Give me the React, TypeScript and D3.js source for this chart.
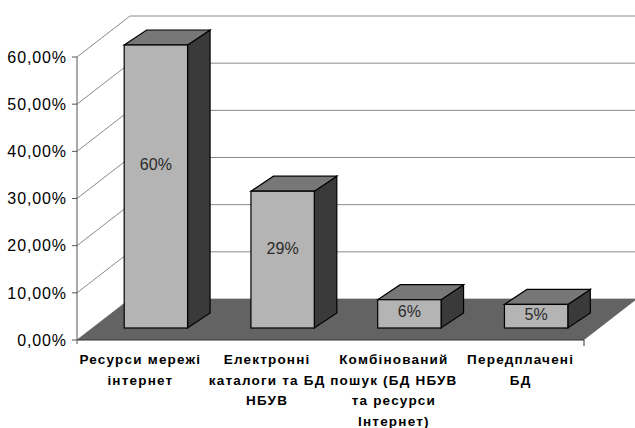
import React, { useEffect, useRef } from "react";
import * as d3 from "d3";

// chart data
const categories = [
  ["Ресурси мережі", "інтернет"],
  ["Електронні", "каталоги та БД", "НБУВ"],
  ["Комбінований", "пошук (БД НБУВ", "та ресурси", "Інтернет)"],
  ["Передплачені", "БД"],
];
const values = [0.6, 0.29, 0.06, 0.05];
const valueLabels = ["60%", "29%", "6%", "5%"];
const yTicks = [0, 0.1, 0.2, 0.3, 0.4, 0.5, 0.6];

const App = () => {
  const svgRef = useRef<SVGSVGElement>(null);

  useEffect(() => {
    document.body.style.margin = "0";
    const svg = d3.select(svgRef.current);
    svg.selectAll("*").remove();

    // front plane of the plot + 3D depth
    const left = 77;
    const right = 584;
    const depth = { dx: 53, dy: -41 };
    const barFront = { dx: 15.5, dy: -12 };
    const barBack = { dx: 38, dy: -27 };

    const x = d3
      .scaleBand()
      .domain(categories.map((d, i) => String(i)))
      .range([left, right])
      .paddingInner(0.5)
      .paddingOuter(0.25);

    const y = d3.scaleLinear().domain([0, 0.6]).range([340, 57]);

    const poly = (pts) => pts.map((p) => p.join(",")).join(" ");

    // back wall
    svg
      .append("polygon")
      .attr(
        "points",
        poly([
          [left + depth.dx, y(0) + depth.dy],
          [right + depth.dx, y(0) + depth.dy],
          [right + depth.dx, y(0.6) + depth.dy],
          [left + depth.dx, y(0.6) + depth.dy],
        ])
      )
      .attr("fill", "#fff");

    // grid on back wall and side wall
    yTicks.forEach((t) => {
      svg
        .append("line")
        .attr("x1", left + depth.dx)
        .attr("x2", right + depth.dx)
        .attr("y1", y(t) + depth.dy)
        .attr("y2", y(t) + depth.dy)
        .attr("stroke", "#8a8a8a")
        .attr("stroke-width", 1);
      svg
        .append("line")
        .attr("x1", left)
        .attr("x2", left + depth.dx)
        .attr("y1", y(t))
        .attr("y2", y(t) + depth.dy)
        .attr("stroke", "#8a8a8a")
        .attr("stroke-width", 1);
    });

    // floor
    svg
      .append("polygon")
      .attr(
        "points",
        poly([
          [left, y(0)],
          [right, y(0)],
          [right + depth.dx, y(0) + depth.dy],
          [left + depth.dx, y(0) + depth.dy],
        ])
      )
      .attr("fill", "#636363");

    svg
      .append("line")
      .attr("x1", left)
      .attr("x2", right)
      .attr("y1", y(0))
      .attr("y2", y(0))
      .attr("stroke", "#333")
      .attr("stroke-width", 1);
    svg
      .append("line")
      .attr("x1", right)
      .attr("x2", right)
      .attr("y1", y(0))
      .attr("y2", y(0) + 6)
      .attr("stroke", "#333");

    // Y axis
    svg
      .append("line")
      .attr("x1", left)
      .attr("x2", left)
      .attr("y1", y(0.6))
      .attr("y2", y(0) + 4)
      .attr("stroke", "#555");
    yTicks.forEach((t) => {
      svg
        .append("line")
        .attr("x1", left - 5)
        .attr("x2", left)
        .attr("y1", y(t))
        .attr("y2", y(t))
        .attr("stroke", "#555");
      svg
        .append("text")
        .attr("x", 67)
        .attr("y", y(t))
        .attr("dy", "0.36em")
        .attr("text-anchor", "end")
        .attr("font-family", "Liberation Sans, Arial, sans-serif")
        .attr("font-size", 16)
        .attr("letter-spacing", 0.9)
        .attr("fill", "#000")
        .text(d3.format(".2%")(t).replace(".", ","));
    });

    // bars
    values.forEach((v, i) => {
      const x0 = x(String(i)) + barFront.dx;
      const x1 = x0 + x.bandwidth();
      const yb = y(0) + barFront.dy;
      const yt = y(v) + barFront.dy;
      const ddx = barBack.dx - barFront.dx;
      const ddy = barBack.dy - barFront.dy;
      const g = svg
        .append("g")
        .attr("stroke", "#000")
        .attr("stroke-width", 1.2)
        .attr("stroke-linejoin", "miter");
      g.append("polygon")
        .attr("points", poly([[x1, yt], [x1 + ddx, yt + ddy], [x1 + ddx, yb + ddy], [x1, yb]]))
        .attr("fill", "#3a3a3a");
      g.append("polygon")
        .attr("points", poly([[x0, yt], [x0 + ddx, yt + ddy], [x1 + ddx, yt + ddy], [x1, yt]]))
        .attr("fill", "#777777");
      g.append("rect")
        .attr("x", x0)
        .attr("y", yt)
        .attr("width", x1 - x0)
        .attr("height", yb - yt)
        .attr("fill", "#b4b4b4");

      svg
        .append("text")
        .attr("x", (x0 + x1) / 2)
        .attr("y", yb - (y(0) - y(v)) * 0.58)
        .attr("dy", "0.36em")
        .attr("text-anchor", "middle")
        .attr("font-family", "Liberation Sans, Arial, sans-serif")
        .attr("font-size", 16)
        .attr("fill", "#2a2a2a")
        .text(valueLabels[i]);
    });

    // category labels
    categories.forEach((lines, i) => {
      const cx = x(String(i)) + x.bandwidth() / 2;
      const t = svg
        .append("text")
        .attr("text-anchor", "middle")
        .attr("font-family", "Liberation Sans, Arial, sans-serif")
        .attr("font-size", 13.5)
        .attr("font-weight", "bold")
        .attr("letter-spacing", 1.2)
        .attr("fill", "#000");
      lines.forEach((line, j) => {
        t.append("tspan")
          .attr("x", cx)
          .attr("y", 364 + j * 20.5)
          .text(line);
      });
    });
  }, []);

  return (
    <svg
      ref={svgRef}
      width={635}
      height={428}
      style={{ display: "block", background: "#fff" }}
    ></svg>
  );
};

export default App;
